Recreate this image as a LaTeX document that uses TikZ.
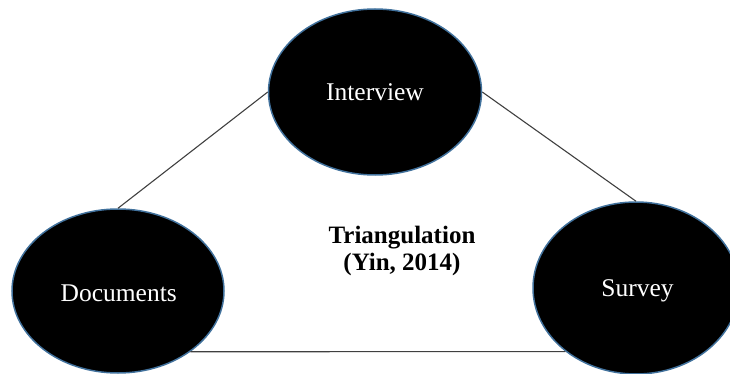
\documentclass[tikz,border=0pt]{standalone}
\usepackage{fontspec}
\setmainfont{Liberation Serif}
\usetikzlibrary{shapes.geometric}
\tikzset{
  method/.style={ellipse, draw=ringblue, line width=1.5pt, fill=black, inner sep=0pt},
  methodtext/.style={text=white, anchor=base, inner sep=0pt, font=\fontsize{25.5}{30}\selectfont},
  titletext/.style={anchor=base, inner sep=0pt, font=\fontsize{25}{29}\selectfont\bfseries},
  link/.style={draw=black!75, line width=1.1pt}
}
\definecolor{ringblue}{HTML}{41719C}
\begin{document}
\begin{tikzpicture}[x=1pt, y=-1pt]
  \useasboundingbox (0,0) rectangle (730,374);

  % the three data sources
  \node[method, minimum width=213pt, minimum height=166pt] (interview) at (375,92) {};
  \node[method, minimum width=212pt, minimum height=164pt] (documents) at (118,291) {};
  \node[method, minimum width=206pt, minimum height=172pt] (survey) at (636,288) {};

  \node[methodtext] (interviewlbl) at (375,100.4) {Interview};
  \node[methodtext] (documentslbl) at (118.7,301.7) {Documents};
  \node[methodtext] (surveylbl) at (637.5,296.7) {Survey};

  % triangle of connections
  \draw[link] (interview.west) -- (documents.north);
  \draw[link] (interview.east) -- (survey.north);
  \draw[link] (documents.-40) -- (survey.-138);

  % caption in the middle
  \node[titletext] (title) at (402,243.3) {Triangulation};
  \node[titletext] (source) at (402,270.6) {(Yin, 2014)};
\end{tikzpicture}
\end{document}
